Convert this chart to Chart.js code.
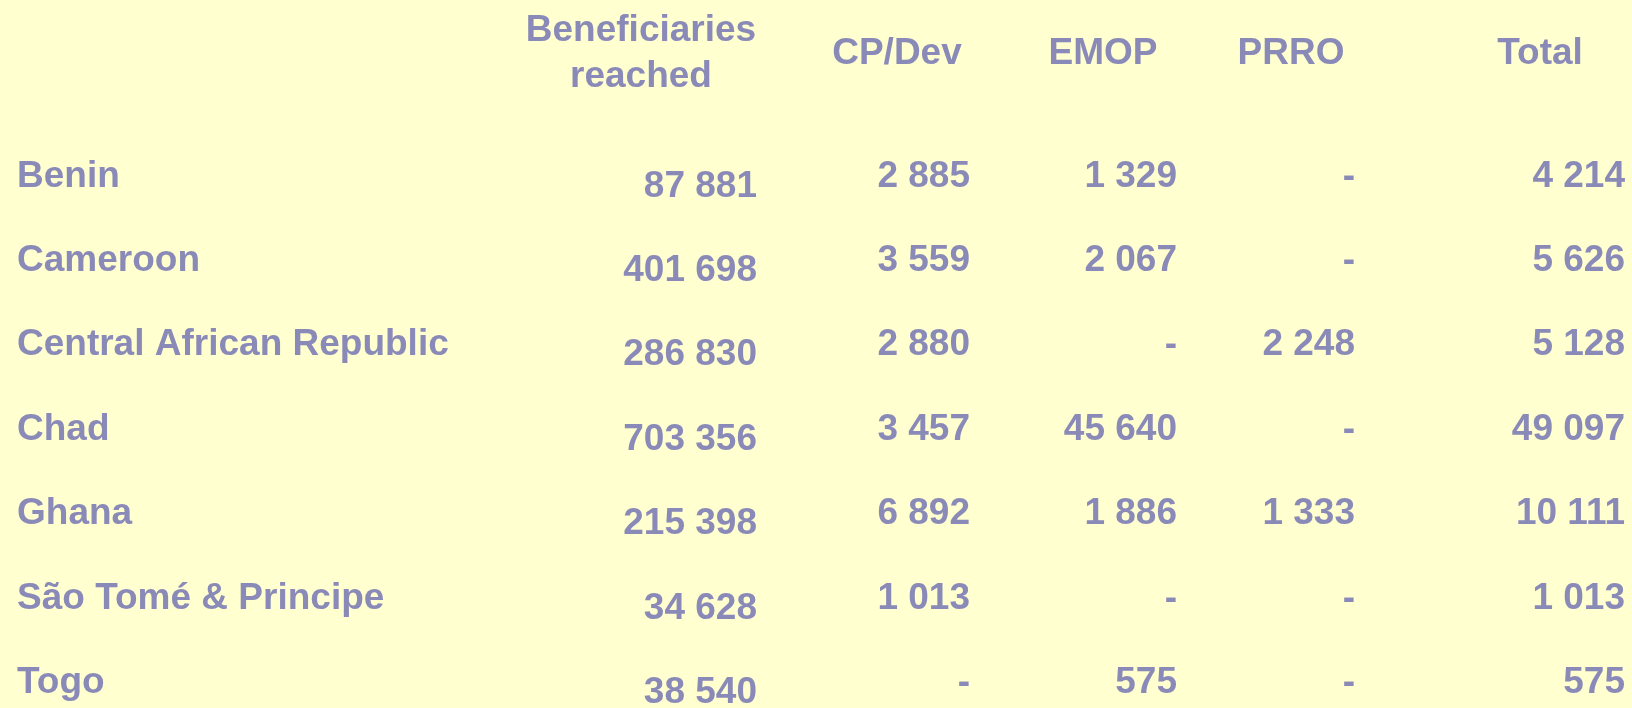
<!DOCTYPE html>
<html>
<head>
<meta charset="utf-8">
<script src="https://cdn.jsdelivr.net/npm/chart.js"></script>
<style>
  html, body { margin: 0; padding: 0; background: #FFFFD0; }
  #wrap { position: relative; width: 1632px; height: 708px; }
</style>
</head>
<body>
<div id="wrap"><canvas id="tableChart"></canvas></div>
<script>
// table data
const countries = ['Benin', 'Cameroon', 'Central African Republic', 'Chad', 'Ghana', 'São Tomé & Principe', 'Togo'];
const headers = [['Beneficiaries', 'reached'], 'CP/Dev', 'EMOP', 'PRRO', 'Total'];
const beneficiaries = [87881, 401698, 286830, 703356, 215398, 34628, 38540];
const cpDev = [2885, 3559, 2880, 3457, 6892, 1013, null];
const emop = [1329, 2067, null, 45640, 1886, null, 575];
const prro = [null, null, 2248, null, 1333, null, null];
const total = [4214, 5626, 5128, 49097, 10111, 1013, 575];

// layout (x axis units = px across the slide)
const colRight = [757, 970, 1177, 1355, 1625];
const headCenter = [641, 897, 1103, 1291, 1540];
const rowShift = [10, 0, 0, 0, 0];

const textColor = '#8A8AB8';
const fontFamily = '"Liberation Sans", Arial, sans-serif';

const fmt = v => v == null ? '-' : String(v).replace(/\B(?=(\d{3})+(?!\d))/g, ' ');

const columns = [beneficiaries, cpDev, emop, prro, total];

const cellPlugin = {
  id: 'cells',
  afterDatasetsDraw(chart) {
    const {ctx, chartArea} = chart;
    const x = chart.scales.x;
    ctx.save();
    ctx.font = 'bold 37px ' + fontFamily;
    ctx.fillStyle = textColor;
    ctx.textBaseline = 'middle';

    // values
    ctx.textAlign = 'right';
    chart.data.datasets.forEach((ds, j) => {
      chart.getDatasetMeta(j).data.forEach((pt, i) => {
        ctx.fillText(fmt(ds.values[i]), pt.x, pt.y + rowShift[j]);
      });
    });

    // column headers
    ctx.textAlign = 'center';
    headers.forEach((h, j) => {
      const cx = x.getPixelForValue(headCenter[j]);
      if (Array.isArray(h)) {
        ctx.fillText(h[0], cx, chartArea.top - 146);
        ctx.fillText(h[1], cx, chartArea.top - 100);
      } else {
        ctx.fillText(h, cx, chartArea.top - 123);
      }
    });
    ctx.restore();
  }
};

new Chart(document.getElementById('tableChart'), {
  type: 'scatter',
  data: {
    datasets: columns.map((col, j) => ({
      label: Array.isArray(headers[j]) ? headers[j].join(' ') : headers[j],
      data: countries.map(c => ({x: colRight[j], y: c})),
      values: col,
      pointRadius: 0,
      pointHoverRadius: 0
    }))
  },
  options: {
    responsive: true,
    maintainAspectRatio: false,
    animation: false,
    layout: { padding: { top: 176.4, bottom: 25.1, left: 0, right: 0 } },
    plugins: { legend: { display: false }, tooltip: { enabled: false } },
    scales: {
      x: { type: 'linear', min: 0, max: 1632, display: false },
      y: {
        type: 'category',
        labels: countries,
        offset: false,
        grid: { display: false, drawTicks: false },
        border: { display: false },
        ticks: {
          mirror: true,
          padding: 17,
          color: textColor,
          font: { family: fontFamily, size: 37, weight: 'bold' }
        },
        afterFit(scale) {
          // labels sit inside the area, so the axis takes no room
          scale.width = 0;
          scale.paddingTop = 0;
          scale.paddingBottom = 0;
        }
      }
    }
  },
  plugins: [cellPlugin]
});
</script>
</body>
</html>
